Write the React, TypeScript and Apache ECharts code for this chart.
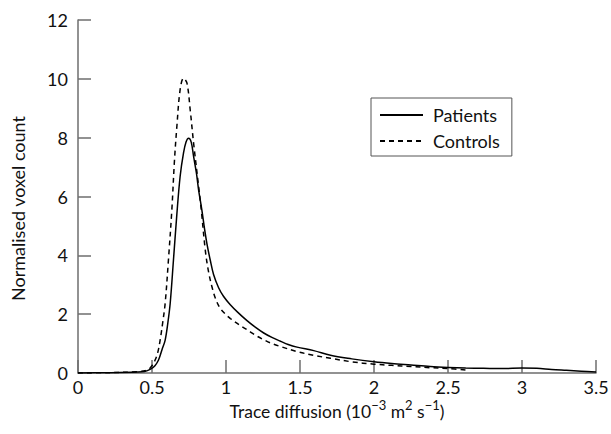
import React, { useEffect, useRef } from "react";
import * as echarts from "echarts";

const patientsX = [0, 0.2, 0.4, 0.45, 0.487, 0.52, 0.544, 0.568, 0.589, 0.607, 0.623, 0.645, 0.668, 0.69, 0.713, 0.73, 0.747, 0.765, 0.781, 0.8, 0.815, 0.837, 0.855, 0.871, 0.893, 0.916, 0.95, 0.984, 1.029, 1.08, 1.142, 1.2, 1.255, 1.31, 1.368, 1.42, 1.48, 1.593, 1.706, 1.85, 2.0, 2.12, 2.25, 2.38, 2.5, 2.62, 2.74, 2.87, 3.0, 3.1, 3.2, 3.3, 3.4, 3.5];
const patientsY = [0, 0.01, 0.03, 0.05, 0.12, 0.25, 0.44, 0.8, 1.12, 1.7, 2.37, 3.84, 5.4, 6.68, 7.48, 7.85, 7.98, 7.85, 7.36, 6.8, 6.22, 5.54, 4.9, 4.4, 3.85, 3.35, 2.9, 2.6, 2.32, 2.06, 1.78, 1.55, 1.36, 1.21, 1.08, 0.97, 0.88, 0.76, 0.6, 0.48, 0.38, 0.32, 0.27, 0.22, 0.19, 0.17, 0.16, 0.15, 0.17, 0.16, 0.12, 0.09, 0.06, 0.03];

const controlsX = [0, 0.2, 0.4, 0.44, 0.476, 0.5, 0.521, 0.54, 0.555, 0.572, 0.589, 0.611, 0.634, 0.652, 0.668, 0.69, 0.713, 0.736, 0.758, 0.781, 0.815, 0.833, 0.86, 0.88, 0.905, 0.93, 0.961, 1.0, 1.03, 1.1, 1.142, 1.2, 1.255, 1.31, 1.368, 1.48, 1.593, 1.706, 1.85, 2.0, 2.12, 2.25, 2.38, 2.5, 2.62];
const controlsY = [0, 0.01, 0.04, 0.07, 0.12, 0.25, 0.44, 0.72, 1.12, 1.7, 2.37, 3.84, 5.54, 7.24, 8.38, 9.63, 10.02, 9.86, 8.95, 7.82, 6.34, 5.54, 4.18, 3.5, 2.93, 2.52, 2.2, 1.98, 1.85, 1.6, 1.47, 1.28, 1.13, 1.0, 0.9, 0.73, 0.6, 0.5, 0.38, 0.3, 0.26, 0.22, 0.18, 0.15, 0.1];

const seriesNames = ["Patients", "Controls"];
const xTicks = { min: 0, max: 3.5, interval: 0.5 };
const yTicks = { min: 0, max: 12, interval: 2 };

const FONT = "Lato";
const AXIS_COLOR = "#6e6e6e";

export default function App() {
  const ref = useRef<HTMLDivElement>(null);
  useEffect(() => {
    if (!ref.current) return;
    const chart = echarts.init(ref.current, undefined, { renderer: "svg" });
    const pairs = (xs: number[], ys: number[]) => xs.map((x, i) => [x, ys[i]]);
    chart.setOption({
      animation: false,
      backgroundColor: "#ffffff",
      textStyle: { fontFamily: FONT },
      grid: { left: 78, right: 15, top: 20, bottom: 61, containLabel: false, outerBoundsMode: "none" },
      legend: {
        orient: "vertical",
        left: 371,
        top: 98,
        width: 143,
        itemWidth: 43,
        itemHeight: 14,
        itemGap: 8,
        padding: [8, 12, 6, 8],
        borderColor: "#555555",
        borderWidth: 1,
        itemStyle: { opacity: 0 },
        textStyle: { fontFamily: FONT, fontSize: 18, color: "#111", padding: [0, 0, 0, 5] },
        data: seriesNames,
      },
      xAxis: {
        type: "value",
        min: xTicks.min,
        max: xTicks.max,
        interval: xTicks.interval,
        name: "Trace diffusion (10{sup|−3} m{sup|2} s{sup|−1})",
        nameLocation: "middle",
        nameGap: 25,
        nameMoveOverlap: false,
        nameTextStyle: {
          fontFamily: FONT,
          fontSize: 17.5,
          lineHeight: 26,
          color: "#111",
          rich: {
            sup: { fontFamily: FONT, fontSize: 13, color: "#111", verticalAlign: "top", lineHeight: 13 },
          },
        },
        axisLine: { show: true, lineStyle: { color: AXIS_COLOR, width: 1.5 } },
        axisTick: { show: true, inside: true, length: 13, lineStyle: { color: AXIS_COLOR, width: 1.5 } },
        axisLabel: { fontFamily: FONT, fontSize: 18, color: "#111", margin: 5 },
        splitLine: { show: false },
      },
      yAxis: {
        type: "value",
        min: yTicks.min,
        max: yTicks.max,
        interval: yTicks.interval,
        name: "Normalised voxel count",
        nameLocation: "middle",
        nameRotate: 90,
        nameGap: 51,
        nameMoveOverlap: false,
        nameTextStyle: { fontFamily: FONT, fontSize: 18, color: "#111", padding: [0, 24, 0, 0] },
        axisLine: { show: true, lineStyle: { color: AXIS_COLOR, width: 1.5 } },
        axisTick: { show: true, inside: true, length: 13, lineStyle: { color: AXIS_COLOR, width: 1.5 } },
        axisLabel: { fontFamily: FONT, fontSize: 18, color: "#111", margin: 10 },
        splitLine: { show: false },
      },
      series: [
        {
          name: seriesNames[0],
          type: "line",
          data: pairs(patientsX, patientsY),
          smooth: 0.35,
          showSymbol: false,
          symbol: "none",
          itemStyle: { color: "#000" },
          lineStyle: { color: "#000", width: 1.5, type: "solid" },
        },
        {
          name: seriesNames[1],
          type: "line",
          data: pairs(controlsX, controlsY),
          smooth: 0.35,
          showSymbol: false,
          symbol: "none",
          itemStyle: { color: "#000" },
          lineStyle: { color: "#000", width: 1.5, type: [5, 4] },
        },
      ],
    });
    return () => chart.dispose();
  }, []);
  return (
    <div
      ref={ref}
      style={{ position: "fixed", left: 0, top: 0, width: 611, height: 434 }}
    />
  );
}
